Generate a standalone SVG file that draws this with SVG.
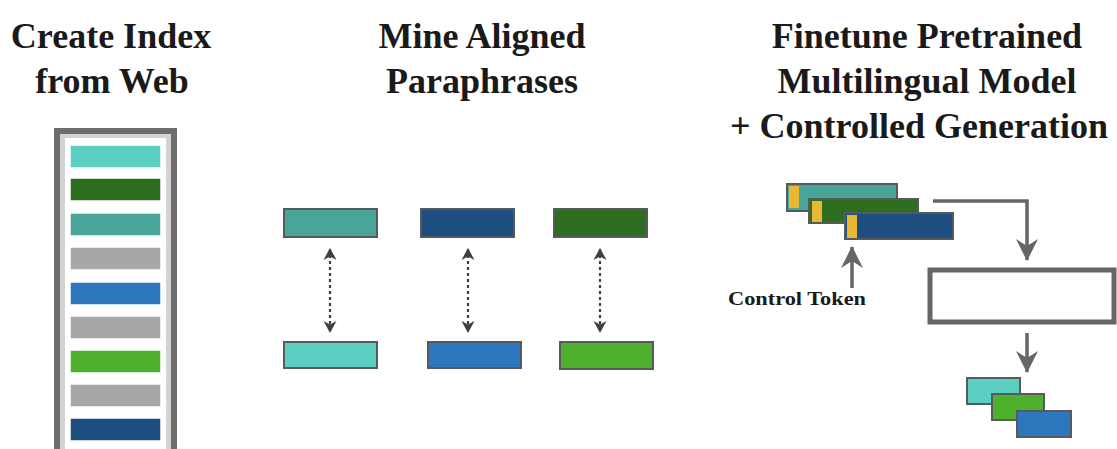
<svg xmlns="http://www.w3.org/2000/svg" width="1117" height="449" viewBox="0 0 1117 449">
  <style>
    text { font-family: "Liberation Serif", serif; font-weight: bold; fill: #1a1a1a; }
    .head { font-size: 36px; text-anchor: middle; }
    .label { font-size: 19px; }
    .bar { stroke: #555a5a; stroke-width: 2; }
    .idx { stroke: #ffffff; stroke-width: 1.5; }
    .tok { fill: #e9b832; stroke: none; }
    .dots { stroke: #3f3f3f; stroke-width: 2.2; stroke-dasharray: 3 3; fill: none; }
    .flow { stroke: #666666; stroke-width: 3.5; fill: none; }
    .teal-l { fill: #5ccfc3; }
    .teal-d { fill: #48a597; }
    .green-d { fill: #2d6e20; }
    .green-l { fill: #4fb02e; }
    .blue-l { fill: #2e77bf; }
    .blue-d { fill: #1e4e80; }
    .grey { fill: #a7a7a7; }
  </style>
  <defs>
    <marker id="dotHead" viewBox="0 0 12 14" refX="11" refY="7" markerWidth="13" markerHeight="14" orient="auto-start-reverse" markerUnits="userSpaceOnUse">
      <path d="M0,0.5 L12,7 L0,13.5 L3.5,7 Z" fill="#3f3f3f"/>
    </marker>
    <marker id="flowHead" viewBox="0 0 22 22" refX="21" refY="11" markerWidth="22" markerHeight="22" orient="auto" markerUnits="userSpaceOnUse">
      <path d="M0,0 L22,11 L0,22 L7,11 Z" fill="#666666"/>
    </marker>
  </defs>

  <rect width="1117" height="449" fill="#ffffff"/>

  <!-- column headings -->
  <g id="heading-index">
    <text class="head" x="111" y="48" style="font-family:'Liberation Serif',serif">Create Index</text>
    <text class="head" x="112" y="93" style="font-family:'Liberation Serif',serif">from Web</text>
  </g>
  <g id="heading-mine">
    <text class="head" x="482" y="48" style="font-family:'Liberation Serif',serif">Mine Aligned</text>
    <text class="head" x="482" y="93" style="font-family:'Liberation Serif',serif">Paraphrases</text>
  </g>
  <g id="heading-finetune">
    <text class="head" x="927" y="48" style="font-family:'Liberation Serif',serif">Finetune Pretrained</text>
    <text class="head" x="927" y="93" style="font-family:'Liberation Serif',serif">Multilingual Model</text>
    <text class="head" x="919" y="138" style="font-family:'Liberation Serif',serif">+ Controlled Generation</text>
  </g>

  <!-- web index: framed stack of entries -->
  <g id="web-index">
    <rect x="57" y="131" width="117" height="330" fill="#d3d3d3" stroke="#6d6d6d" stroke-width="6"/>
    <rect x="65" y="138" width="101" height="320" fill="#ffffff"/>
    <rect class="idx teal-l" x="70" y="145" width="91" height="23"/>
    <rect class="idx green-d" x="70" y="178" width="91" height="23"/>
    <rect class="idx teal-d" x="70" y="213" width="91" height="23"/>
    <rect class="idx grey" x="70" y="247" width="91" height="23"/>
    <rect class="idx blue-l" x="70" y="282" width="91" height="23"/>
    <rect class="idx grey" x="70" y="316" width="91" height="23"/>
    <rect class="idx green-l" x="70" y="350" width="91" height="23"/>
    <rect class="idx grey" x="70" y="384" width="91" height="23"/>
    <rect class="idx blue-d" x="70" y="418" width="91" height="23"/>
  </g>

  <!-- mined paraphrase pairs -->
  <g id="pair-1-source"><rect class="bar teal-d" x="284" y="209" width="93" height="28"/></g>
  <g id="pair-1-target"><rect class="bar teal-l" x="284" y="342" width="93" height="26"/></g>
  <g id="pair-2-source"><rect class="bar blue-d" x="421" y="209" width="93" height="28"/></g>
  <g id="pair-2-target"><rect class="bar blue-l" x="428" y="342" width="93" height="26"/></g>
  <g id="pair-3-source"><rect class="bar green-d" x="554" y="209" width="93" height="28"/></g>
  <g id="pair-3-target"><rect class="bar green-l" x="560" y="342" width="93" height="27"/></g>

  <!-- finetuning inputs with control tokens -->
  <g id="input-1">
    <rect class="bar teal-d" x="787" y="184" width="110" height="27"/>
    <rect class="tok" x="789" y="186" width="10" height="22"/>
  </g>
  <g id="input-2">
    <rect class="bar green-d" x="809" y="199" width="109" height="24"/>
    <rect class="tok" x="812" y="201" width="10" height="21"/>
  </g>
  <g id="input-3">
    <rect class="bar blue-d" x="845" y="213" width="108" height="26"/>
    <rect class="tok" x="847" y="215" width="10" height="23"/>
  </g>
  <g id="control-token-label">
    <text class="label" x="728" y="305" textLength="138" lengthAdjust="spacingAndGlyphs">Control Token</text>
  </g>

  <!-- model box -->
  <g id="model">
    <rect x="930" y="270" width="184" height="52" fill="#ffffff" stroke="#666666" stroke-width="5"/>
  </g>

  <!-- generated outputs -->
  <g id="outputs">
    <rect class="bar teal-l" x="967" y="378" width="53" height="26"/>
    <rect class="bar green-l" x="992" y="394" width="52" height="26"/>
    <rect class="bar blue-l" x="1017" y="411" width="54" height="26"/>
  </g>

  <!-- connectors -->
  <g id="connectors">
    <line class="dots" x1="330" y1="249" x2="330" y2="332" marker-start="url(#dotHead)" marker-end="url(#dotHead)"/>
    <line class="dots" x1="468" y1="249" x2="468" y2="332" marker-start="url(#dotHead)" marker-end="url(#dotHead)"/>
    <line class="dots" x1="600" y1="249" x2="600" y2="332" marker-start="url(#dotHead)" marker-end="url(#dotHead)"/>
    <line class="flow" x1="852" y1="288" x2="852" y2="247" stroke-width="3" marker-end="url(#flowHead)"/>
    <polyline class="flow" points="933,201 1027,201 1027,260" marker-end="url(#flowHead)"/>
    <line class="flow" x1="1027" y1="333" x2="1027" y2="372" marker-end="url(#flowHead)"/>
  </g>
</svg>
